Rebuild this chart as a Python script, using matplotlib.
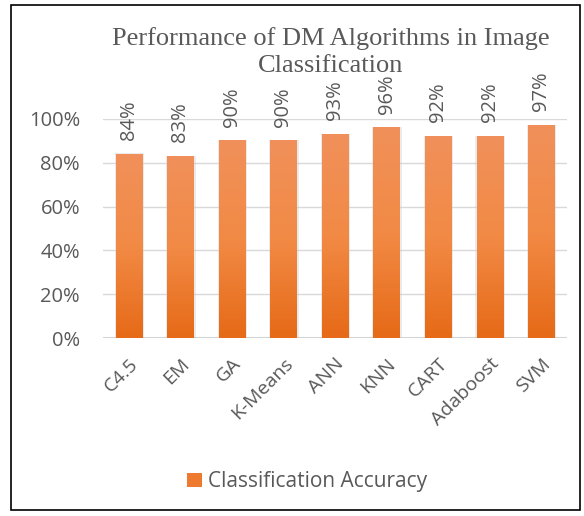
import matplotlib.pyplot as plt
import numpy as np
from matplotlib.patches import Rectangle
from matplotlib.colors import LinearSegmentedColormap

algorithms = ["C4.5", "EM", "GA", "K-Means", "ANN", "KNN", "CART", "Adaboost", "SVM"]
accuracy = [84, 83, 90, 90, 93, 96, 92, 92, 97]
yticks = [0, 20, 40, 60, 80, 100]

LABEL_FONT = ["Open Sans", "DejaVu Sans"]
TEXT_GRAY = "#595959"

fig = plt.figure(figsize=(5.84, 5.16), dpi=100)
ax = fig.add_axes([103 / 584, 1 - 338 / 516, 464 / 584, 219 / 516])

x = np.arange(len(algorithms))
width = 0.51
cmap = LinearSegmentedColormap.from_list("orange", ["#E66A17", "#F28A45", "#F0905A"])
grad = np.linspace(0, 1, 256).reshape(-1, 1)

for xi, val in zip(x, accuracy):
    # soft shadow on both sides
    ax.add_patch(Rectangle((xi - width / 2 - 0.02, 0), width + 0.06, val + 0.3,
                           facecolor="#c8c8c8", alpha=0.35, edgecolor="none", zorder=2))
    ax.imshow(grad, extent=(xi - width / 2, xi + width / 2, 0, val), origin="lower",
              cmap=cmap, aspect="auto", zorder=3)
    ax.text(xi, val + 6.5, f"{val}%", rotation=90, ha="center", va="bottom",
            fontsize=14.5, color=TEXT_GRAY, family=LABEL_FONT, zorder=4)

ax.set_xlim(-0.5, len(algorithms) - 0.5)
ax.set_ylim(0, 100)
ax.set_yticks(yticks)
ax.set_yticklabels([f"{v}%" for v in yticks], fontsize=14.5, color=TEXT_GRAY, family=LABEL_FONT)
ax.set_xticks(x)
ax.set_xticklabels(algorithms, rotation=45, ha="right", rotation_mode="anchor",
                   fontsize=14, color=TEXT_GRAY, family=LABEL_FONT)
ax.tick_params(axis="y", length=0, pad=16.5)
ax.tick_params(axis="x", length=0, pad=12)
ax.grid(axis="y", color="#d9d9d9", linewidth=1, zorder=0)
for s in ax.spines.values():
    s.set_visible(False)
ax.axhline(0, color="#d4d4d4", linewidth=1.5, zorder=1)

fig.text(0.566, 1 - 52 / 516, "Performance of DM Algorithms in Image\nClassification", ha="center",
         va="center", fontsize=19, color=TEXT_GRAY, family=["Liberation Serif"],
         linespacing=1.3)

# legend
fig.patches.append(Rectangle((187 / 584, 1 - 487 / 516), 15 / 584, 14 / 516,
                             transform=fig.transFigure, facecolor="#EE7A30", edgecolor="none"))
fig.text(208 / 584, 1 - 482 / 516, "Classification Accuracy", ha="left", va="center",
         fontsize=15, color=TEXT_GRAY, family=LABEL_FONT)

# border
fig.patches.append(Rectangle((11 / 584, 1 - 510 / 516), 569 / 584, 505 / 516,
                             transform=fig.transFigure, facecolor="none",
                             edgecolor="black", linewidth=1.2))

fig.savefig("out.png", dpi=100)
